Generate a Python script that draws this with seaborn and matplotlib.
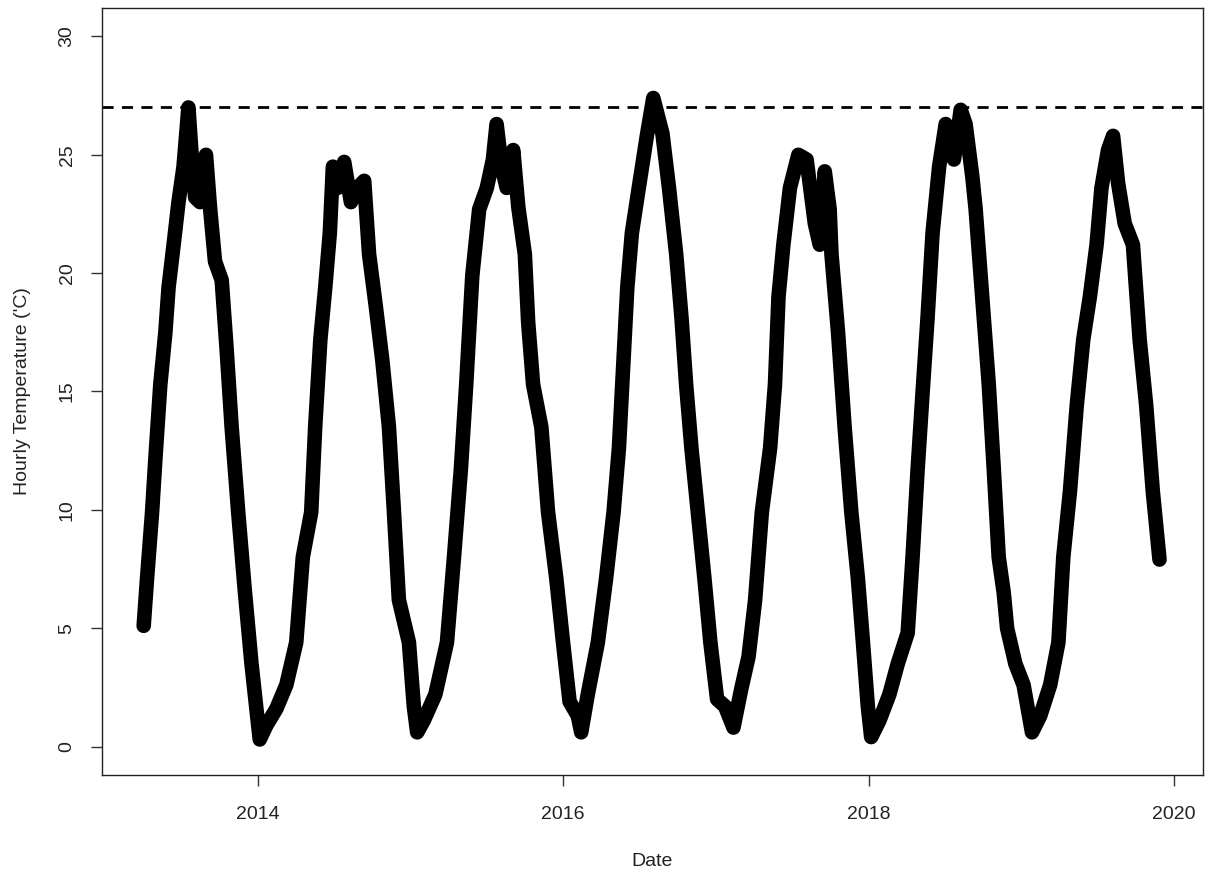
import numpy as np
import pandas as pd
import matplotlib
matplotlib.use("Agg")
import matplotlib.pyplot as plt
import seaborn as sns

# decimal year, hourly temperature ('C)
year = [
    2013.253, 2013.275, 2013.308, 2013.329, 2013.362, 2013.395, 2013.416, 2013.449, 2013.481, 2013.514,
    2013.546, 2013.568, 2013.590, 2013.622, 2013.661, 2013.687, 2013.720, 2013.764, 2013.796, 2013.829,
    2013.872, 2013.915, 2013.959, 2014.013, 2014.057, 2014.122, 2014.187, 2014.252, 2014.295, 2014.350,
    2014.376, 2014.410, 2014.442, 2014.472, 2014.492, 2014.523, 2014.566, 2014.610, 2014.653, 2014.697,
    2014.729, 2014.773, 2014.816, 2014.859, 2014.892, 2014.924, 2014.990, 2015.022, 2015.044, 2015.087,
    2015.163, 2015.239, 2015.285, 2015.330, 2015.365, 2015.405, 2015.450, 2015.500, 2015.540, 2015.564,
    2015.597, 2015.630, 2015.673, 2015.706, 2015.749, 2015.771, 2015.803, 2015.857, 2015.901, 2015.955,
    2015.999, 2016.042, 2016.096, 2016.118, 2016.161, 2016.227, 2016.281, 2016.330, 2016.365, 2016.395,
    2016.420, 2016.450, 2016.495, 2016.548, 2016.590, 2016.650, 2016.693, 2016.740, 2016.775, 2016.805,
    2016.840, 2016.882, 2016.925, 2016.964, 2017.008, 2017.060, 2017.115, 2017.165, 2017.214, 2017.257,
    2017.301, 2017.355, 2017.387, 2017.410, 2017.442, 2017.485, 2017.540, 2017.594, 2017.648, 2017.680,
    2017.713, 2017.745, 2017.757, 2017.800, 2017.843, 2017.887, 2017.930, 2017.963, 2017.995, 2018.017,
    2018.071, 2018.136, 2018.191, 2018.256, 2018.288, 2018.321, 2018.354, 2018.386, 2018.419, 2018.462,
    2018.505, 2018.559, 2018.603, 2018.635, 2018.679, 2018.701, 2018.744, 2018.787, 2018.820, 2018.852,
    2018.885, 2018.907, 2018.961, 2019.015, 2019.070, 2019.124, 2019.189, 2019.243, 2019.275, 2019.319,
    2019.363, 2019.406, 2019.449, 2019.493, 2019.525, 2019.568, 2019.601, 2019.634, 2019.677, 2019.731,
    2019.775, 2019.818, 2019.861, 2019.905,
]
temp = [
    5.1, 7.1, 9.9, 12.1, 15.3, 17.5, 19.4, 21.2, 23.0, 24.5,
    27.0, 24.9, 23.2, 23.0, 25.0, 22.8, 20.5, 19.7, 16.8, 13.5,
    9.9, 6.6, 3.5, 0.3, 0.9, 1.6, 2.6, 4.4, 8.0, 9.9,
    13.5, 17.2, 19.4, 21.7, 24.5, 23.6, 24.7, 23.0, 23.6, 23.9,
    20.8, 18.6, 16.3, 13.5, 9.9, 6.2, 4.4, 1.7, 0.6, 1.1,
    2.2, 4.4, 8.0, 11.7, 15.3, 19.9, 22.7, 23.6, 24.8, 26.3,
    24.5, 23.6, 25.2, 22.8, 20.8, 17.9, 15.3, 13.5, 9.9, 7.1,
    4.4, 1.9, 1.3, 0.6, 2.2, 4.4, 7.1, 9.9, 12.6, 16.3,
    19.4, 21.7, 23.6, 25.8, 27.4, 25.9, 23.6, 20.8, 18.1, 15.3,
    12.6, 9.9, 7.1, 4.4, 2.0, 1.7, 0.8, 2.4, 3.8, 6.2,
    9.9, 12.6, 15.3, 19.0, 21.2, 23.6, 25.0, 24.8, 22.1, 21.2,
    24.3, 22.7, 20.8, 17.5, 13.5, 9.9, 7.1, 4.4, 1.7, 0.4,
    1.1, 2.2, 3.5, 4.8, 8.0, 11.7, 15.0, 18.1, 21.7, 24.5,
    26.3, 24.8, 26.9, 26.3, 24.1, 22.7, 19.0, 15.3, 11.7, 8.0,
    6.5, 5.0, 3.5, 2.6, 0.6, 1.3, 2.6, 4.4, 8.0, 10.8,
    14.4, 17.2, 19.0, 21.2, 23.6, 25.2, 25.8, 23.8, 22.1, 21.2,
    17.2, 14.4, 10.8, 7.9,
]
threshold = 27
x_ticks = [2014, 2016, 2018, 2020]
y_ticks = [0, 5, 10, 15, 20, 25, 30]

data = pd.DataFrame({"Date": year, "Temp": temp})

sns.set_style("ticks")
plt.rcParams["font.family"] = ["Liberation Sans", "DejaVu Sans"]

fig = plt.figure(figsize=(12.07, 8.73), dpi=100)
ax = fig.add_axes([0.0845, 0.1123, 0.9122, 0.8785])

sns.lineplot(data=data, x="Date", y="Temp", ax=ax, color="black",
             linewidth=10.5, estimator=None, sort=False,
             solid_capstyle="round", solid_joinstyle="round")
ax.axhline(threshold, color="black", linewidth=2, linestyle=(0, (4, 3)))

ax.set_xlim(2012.98, 2020.19)
ax.set_ylim(-1.2, 31.2)
ax.set_xticks(x_ticks)
ax.set_yticks(y_ticks)
ax.tick_params(axis="both", direction="out", length=8, width=1,
               color="#333333", labelsize=14, labelcolor="#222222")
ax.tick_params(axis="x", pad=14)
ax.tick_params(axis="y", pad=11)
for lab in ax.get_yticklabels():
    lab.set_rotation(90)
    lab.set_va("center")

for s in ax.spines.values():
    s.set_visible(True)
    s.set_color("#222222")
    s.set_linewidth(1)

ax.set_xlabel("Date", fontsize=14, labelpad=22, color="#222222")
ax.set_ylabel("Hourly Temperature ('C)", fontsize=14, labelpad=20, color="#222222")

fig.savefig("out.png", dpi=100)
